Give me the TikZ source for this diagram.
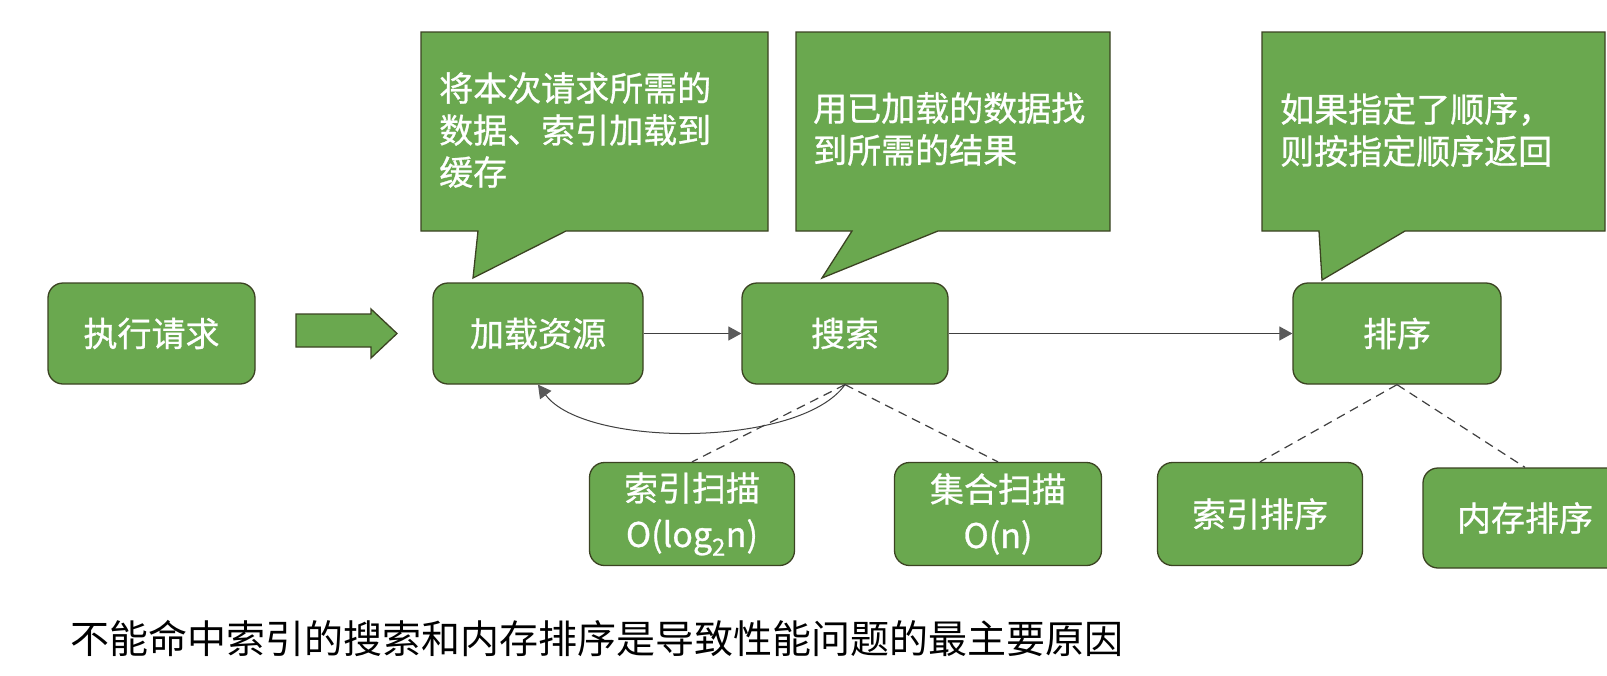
\documentclass[tikz,border=0pt]{standalone}
\usepackage{fontspec}
\setmainfont{Noto Sans CJK SC}
\newfontfamily\boxfont[FakeBold=0.8]{Noto Sans CJK SC}
\usetikzlibrary{arrows.meta}
\definecolor{boxgreen}{HTML}{6AA84F}
\definecolor{boxline}{HTML}{3B4322}
\definecolor{conn}{HTML}{404040}
\definecolor{headgray}{HTML}{5A5A5A}
\begin{document}
\begin{tikzpicture}[x=1pt,y=-1pt,
  procbox/.style={draw=boxline, fill=boxgreen, line width=1.3pt, rounded corners=15pt, text=white,
    font=\boxfont\fontsize{34}{46}\selectfont, align=center, inner sep=0pt, minimum height=101pt, minimum width=206pt},
  callout/.style={draw=boxline, fill=boxgreen, line width=1.3pt},
  callouttext/.style={text=white, font=\boxfont\fontsize{34}{42}\selectfont, align=left, anchor=west, inner sep=0pt},
  flow/.style={draw=conn, line width=1.1pt, -{Triangle[length=13pt,width=14pt,fill=headgray,color=headgray]}},
  link/.style={draw=conn, line width=1.2pt, dash pattern=on 9pt off 6pt},
]
\useasboundingbox (0,0) rectangle (1607,675);
\clip (0,0) rectangle (1607,675);
\fill[white] (0,0) rectangle (1607,675);

% callouts
\draw[callout] (421,32) -- (768,32) -- (768,231) -- (566,231) -- (473,278) -- (478,231) -- (421,231) -- cycle;
\node[callouttext] (c1) at (439,130) {将本次请求所需的\\数据、索引加载到\\缓存};
\draw[callout] (796,32) -- (1110,32) -- (1110,231) -- (938,231) -- (822,278) -- (852,231) -- (796,231) -- cycle;
\node[callouttext] (c2) at (813,129) {用已加载的数据找\\到所需的结果};
\draw[callout] (1262,32) -- (1605,32) -- (1605,231) -- (1405,231) -- (1322,280) -- (1319,231) -- (1262,231) -- cycle;
\node[callouttext] (c3) at (1280,130) {如果指定了顺序，\\则按指定顺序返回};

% main boxes
\node[procbox, minimum width=207pt] (exec) at (151.5,333.5) {执行请求};
\node[procbox, minimum width=210pt] (load) at (538,333.5) {加载资源};
\node[procbox] (search) at (845,333.5) {搜索};
\node[procbox, minimum width=208pt] (sort) at (1397,333.5) {排序};

% sub boxes
\node[procbox, minimum width=205pt, minimum height=103pt] (iscan) at (692,514) {索引扫描\\O(log\textsubscript{2}n)};
\node[procbox, minimum width=207pt, minimum height=103pt] (cscan) at (998,514) {集合扫描\\O(n)};
\node[procbox, minimum width=205pt, minimum height=103pt] (isort) at (1260,514) {索引排序};
\node[procbox, minimum width=204pt, minimum height=100pt] (msort) at (1525,518) {内存排序};

% block arrow
\draw[callout] (296,314) -- (371,314) -- (371,309) -- (397,333.5) -- (371,358) -- (371,347) -- (296,347) -- cycle;

% connectors
\draw[flow] (load.east) -- (search.west);
\draw[flow] (search.east) -- (sort.west);
\draw[flow, line width=1pt] (search.south) .. controls (800,448) and (585,448) .. (load.south);
\draw[link] (search.south) -- (iscan.north);
\draw[link] (search.south) -- (cscan.north);
\draw[link] (sort.south) -- (isort.north);
\draw[link] (sort.south) -- (msort.north);

% summary
\node[anchor=west, inner sep=0pt, text=black, font=\fontsize{39}{39}\selectfont] (summary) at (70,638)
  {不能命中索引的搜索和内存排序是导致性能问题的最主要原因};
\end{tikzpicture}
\end{document}
